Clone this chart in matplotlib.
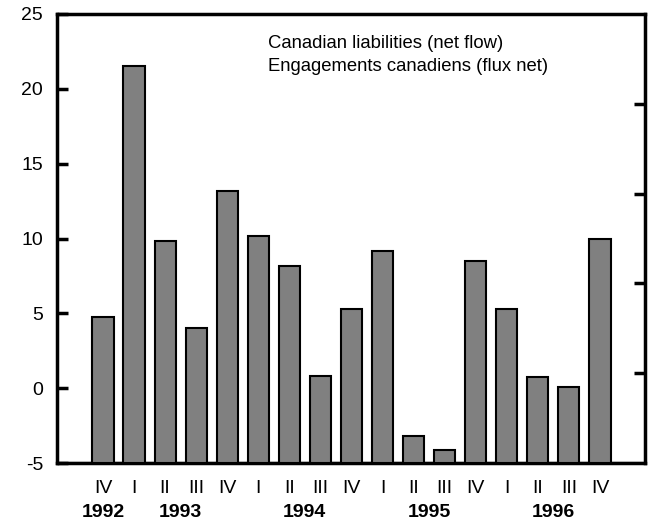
import matplotlib.pyplot as plt
import matplotlib.transforms as mtransforms

plt.rcParams['font.family'] = ['Liberation Sans', 'DejaVu Sans']
plt.rcParams['axes.unicode_minus'] = False

# quarterly data, 1992 Q4 to 1996 Q4
quarters = ["IV", "I", "II", "III", "IV", "I", "II", "III", "IV",
            "I", "II", "III", "IV", "I", "II", "III", "IV"]
values = [4.75, 21.5, 9.8, 4.0, 13.15, 10.2, 8.15, 0.8, 5.3,
          9.15, -3.2, -4.1, 8.5, 5.3, 0.75, 0.1, 10.0]
years = ["1992", "1993", "1994", "1995", "1996"]
year_pos = [0, 2.5, 6.5, 10.5, 14.5]
legend_lines = ["Canadian liabilities (net flow)",
                "Engagements canadiens (flux net)"]

ymin, ymax = -5, 25

fig = plt.figure(figsize=(6.49, 5.29), dpi=100)
ax = fig.add_axes([57 / 649, 66 / 529, 588 / 649, 449 / 529])

x = list(range(len(values)))
# bars are drawn up from the bottom of the axis
heights = [v - ymin for v in values]
ax.bar(x, heights, bottom=ymin, width=0.68, color="#808080",
       edgecolor="black", linewidth=1.5, zorder=3)
ax.hlines(ymin + 0.08, -1.5, 17.5, color="#999999", linewidth=1, zorder=1)

ax.set_xlim(-1.48, 17.45)
ax.set_ylim(ymin, ymax)
ax.set_yticks(range(-5, 26, 5))
ax.tick_params(axis="y", direction="in", length=8, width=2.5,
               labelsize=14, pad=10)
ax.set_xticks(x)
ax.set_xticklabels(quarters)
ax.tick_params(axis="x", length=0, labelsize=14, pad=12)
for s in ax.spines.values():
    s.set_linewidth(2.5)

# right side ticks, no labels
ax2 = ax.twinx()
ax2.set_ylim(0, 5)
ax2.set_yticks([1, 2, 3, 4])
ax2.tick_params(axis="y", direction="in", length=8, width=2.5,
                labelright=False)
for s in ax2.spines.values():
    s.set_visible(False)

trans = mtransforms.blended_transform_factory(ax.transData, ax.transAxes)
for yr, p in zip(years, year_pos):
    ax.text(p, -0.11, yr, transform=trans, ha="center", va="center",
            fontsize=14, fontweight="bold")

ax.text(0.359, 0.935, legend_lines[0], transform=ax.transAxes,
        fontsize=13.3, va="center")
ax.text(0.359, 0.882, legend_lines[1], transform=ax.transAxes,
        fontsize=13.3, va="center")

fig.savefig("out.png", dpi=100)
